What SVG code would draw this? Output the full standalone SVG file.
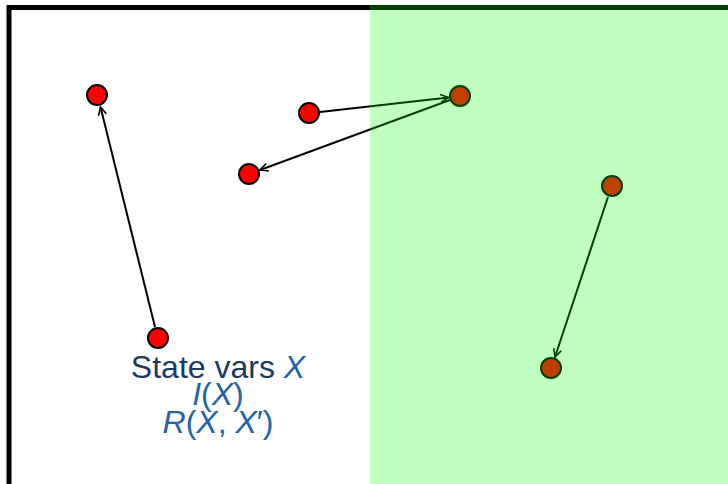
<svg xmlns="http://www.w3.org/2000/svg" width="728" height="484" viewBox="0 0 728 484">
<style>
.node{fill:#ff0000;stroke:#000;stroke-width:2}
.edge{stroke:#000;stroke-width:2;fill:none;marker-end:url(#arr)}
.t{font-family:"Liberation Sans",Arial,sans-serif;font-size:32px;text-anchor:middle}
.d{fill:#1b3a5e}
.b{fill:#2563a8}
.i{font-style:italic}
</style>
<defs>
<marker id="arr" markerUnits="userSpaceOnUse" markerWidth="12" markerHeight="12" viewBox="-10 -6 12 12" refX="0" refY="0" orient="auto">
<path d="M-8,-4 L0,0 L-8,4" fill="none" stroke="#000" stroke-width="1.6"/>
</marker>
</defs>
<rect x="0" y="0" width="728" height="484" fill="#fff"/>
<rect id="frame" x="9" y="7.5" width="722" height="490" fill="#fff" stroke="#000" stroke-width="5"/>
<g id="connectors">
<line class="edge" x1="155" y1="327" x2="100.5" y2="107"/>
<line class="edge" x1="320" y1="112" x2="448.5" y2="97.5"/>
<line class="edge" x1="450" y1="100" x2="260" y2="170"/>
<line class="edge" x1="608" y1="197" x2="555" y2="357"/>
</g>
<g id="n1"><circle class="node" cx="97" cy="95" r="10"/></g>
<g id="n2"><circle class="node" cx="158" cy="338" r="10"/></g>
<g id="n3"><circle class="node" cx="309" cy="113" r="10"/></g>
<g id="n4"><circle class="node" cx="460" cy="96" r="10"/></g>
<g id="n5"><circle class="node" cx="249" cy="174" r="10"/></g>
<g id="n6"><circle class="node" cx="612" cy="186" r="10"/></g>
<g id="n7"><circle class="node" cx="551" cy="368" r="10"/></g>
<g id="label">
<text class="t d" x="218" y="378">State vars <tspan class="b i">X</tspan></text>
<text class="t b" x="218" y="405"><tspan class="i">I</tspan>(<tspan class="i">X</tspan>)</text>
<text class="t b" x="218" y="433"><tspan class="i">R</tspan>(<tspan class="i">X</tspan>, <tspan class="i">X</tspan>′)</text>
</g>
<rect id="region" x="370" y="5" width="360" height="480" fill="#00ff00" fill-opacity="0.25"/>
</svg>
